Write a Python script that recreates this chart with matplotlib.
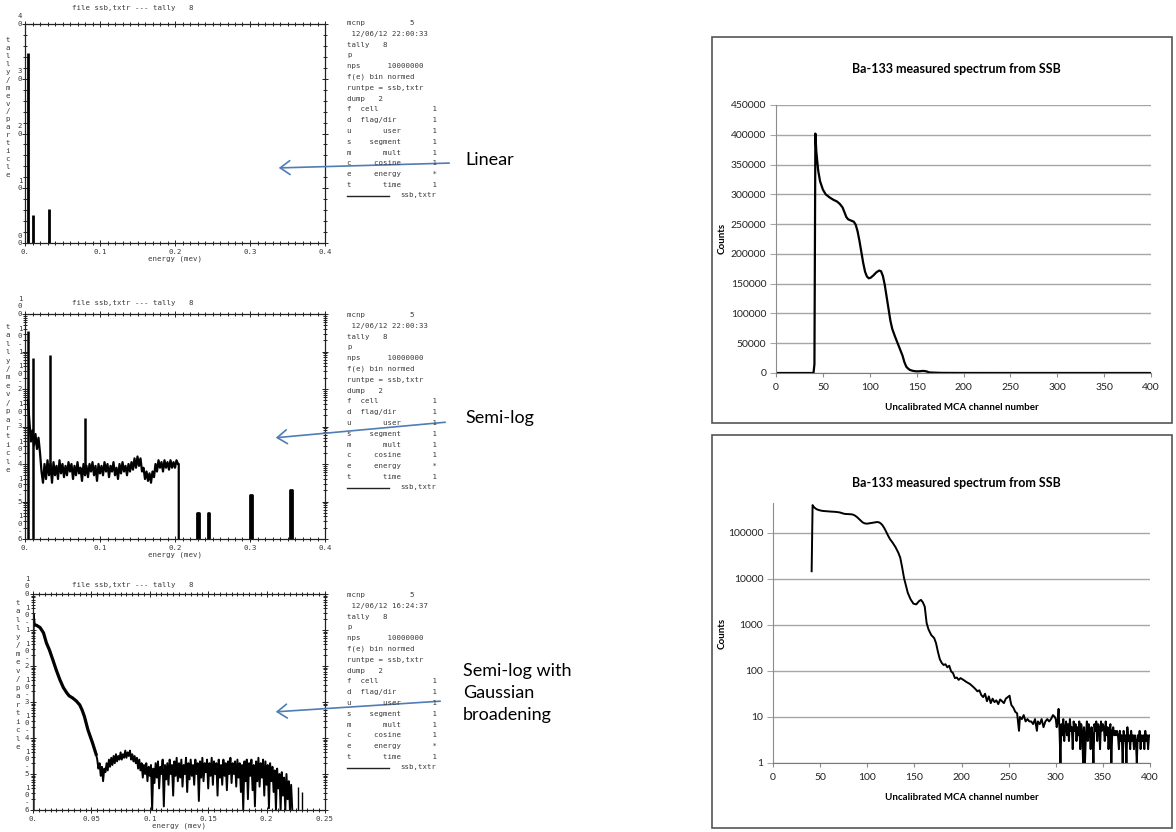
import numpy as np
import matplotlib.pyplot as plt
from matplotlib.patches import Rectangle, FancyArrowPatch
from matplotlib.lines import Line2D
from matplotlib.ticker import MultipleLocator, FixedLocator, LogLocator, NullFormatter, NullLocator

plt.rcParams['font.family'] = ['Lato', 'DejaVu Sans']

# ---------------- MCNP tally 8 plots (left column) ----------------
# linear plot: three isolated spikes (tally/mev/particle)
lin_energy = [0.004, 0.011, 0.032]
lin_tally = [3.47, 0.51, 0.62]

# semi-log plot, values stored as log10(tally/mev/particle)
semi_spike_energy = [0.004, 0.011, 0.033, 0.080]
semi_spike_top = [-0.46, -1.17, -1.08, -2.76]
semi_spike_base = [-6.0, -6.0, -4.1, -4.2]
semi_cont_start, semi_cont_end, semi_edge = 0.004, 0.204, 0.205
semi_cont = [-2.3, -2.9, -3.4, -3.1, -3.5, -3.2, -3.6, -3.3, -3.7, -4.2,
             -4.5, -4.0, -4.4, -3.9, -4.3, -4.0, -4.5, -3.95, -4.3, -4.05,
             -4.4, -3.9, -4.25, -4.0, -4.35, -4.05, -4.3, -3.95, -4.2, -4.0,
             -4.4, -4.05, -4.3, -3.95, -4.25, -4.1, -4.45, -4.0, -4.3, -4.05,
             -4.35, -4.0, -4.2, -3.95, -4.3, -4.05, -4.45, -4.0, -4.25, -4.05,
             -4.3, -3.95, -4.2, -4.0, -4.35, -4.05, -4.2, -3.95, -4.3, -4.1,
             -4.4, -4.0, -4.25, -3.95, -4.2, -4.05, -4.3, -4.0, -4.2, -3.95,
             -4.15, -3.85, -4.1, -3.8, -4.05, -3.85, -4.2, -4.1, -4.4, -4.2,
             -4.45, -4.25, -4.5, -4.2, -4.35, -4.0, -4.2, -3.9, -4.1, -3.95,
             -4.2, -3.9, -4.1, -3.95, -4.15, -3.9, -4.1, -3.95, -4.1, -3.9,
             -4.0]
semi_peak_lo = [0.2295, 0.2435, 0.2995, 0.3535]
semi_peak_hi = [0.2315, 0.2455, 0.3025, 0.3565]
semi_peak_top = [-5.3, -5.3, -4.82, -4.68]

# semi-log with gaussian broadening (log10 values)
gauss_smooth_e = [0.0, 0.0, 0.001, 0.003, 0.006, 0.009, 0.0115, 0.014, 0.017, 0.020,
                  0.023, 0.026, 0.029, 0.031, 0.034, 0.037, 0.040, 0.042, 0.044,
                  0.047, 0.051, 0.054]
gauss_smooth_v = [-6.0, -0.57, -0.85, -0.87, -0.93, -1.08, -1.36, -1.55, -1.83, -2.12,
                  -2.38, -2.60, -2.75, -2.83, -2.89, -2.97, -3.08, -3.22, -3.40,
                  -3.77, -4.14, -4.45]
gauss_noise_start, gauss_noise_end = 0.055, 0.222
gauss_noise = [-4.6, -4.85, -4.7, -5.05, -4.8, -5.2, -4.85, -4.95, -4.7, -4.9,
               -4.6, -4.8, -4.55, -4.75, -4.5, -4.7, -4.45, -4.65, -4.5, -4.6,
               -4.4, -4.6, -4.45, -4.55, -4.35, -4.55, -4.4, -4.5, -4.35, -4.6,
               -4.45, -4.65, -4.5, -4.7, -4.55, -4.85, -4.6, -4.9, -4.7, -5.1,
               -4.75, -5.0, -4.7, -5.2, -4.8, -5.05, -4.75, -6.0, -4.85, -5.25,
               -4.7, -5.1, -4.65, -5.4, -4.8, -5.0, -4.6, -5.9, -4.75, -5.15,
               -4.7, -5.3, -4.6, -5.0, -4.75, -5.6, -4.65, -5.05, -4.55, -5.2,
               -4.7, -5.1, -4.6, -5.35, -4.75, -5.0, -4.55, -5.5, -4.7, -5.15,
               -4.6, -5.05, -4.75, -5.3, -4.6, -5.0, -4.7, -5.75, -4.65, -5.1,
               -4.55, -5.2, -4.7, -4.95, -4.6, -5.4, -4.7, -5.05, -4.55, -5.3,
               -4.65, -5.0, -4.7, -5.6, -4.6, -5.1, -4.75, -5.3, -4.6, -5.05,
               -4.7, -5.45, -4.65, -5.0, -4.55, -5.25, -4.7, -5.0, -4.65, -5.35,
               -4.6, -5.1, -4.7, -5.5, -4.75, -6.0, -4.65, -5.2, -4.6, -5.7,
               -4.7, -5.05, -4.6, -5.45, -4.75, -5.9, -4.65, -5.2, -4.55, -5.35,
               -4.7, -5.1, -4.6, -5.6, -4.65, -5.3, -4.75, -5.95, -4.7, -5.2,
               -4.8, -5.5, -4.9, -6.0, -4.85, -5.4, -5.0, -6.0, -4.95, -5.6,
               -5.1, -6.0, -5.0, -5.7, -5.2, -6.0, -5.3, -6.0]
gauss_lone_e = [0.227, 0.230]
gauss_lone_v = [-5.35, -5.5]

# ---------------- Ba-133 measured spectrum (right column) ----------------
ba_channel = [0, 38, 40, 41, 42, 43, 45, 47, 50, 53, 57, 61, 65, 68, 71, 73, 75, 77, 80,
              83, 85, 87, 89, 91, 93, 95, 97, 99, 101, 104, 107, 110, 112, 114, 116,
              118, 120, 122, 124, 127, 130, 133, 135, 137, 139, 141, 143, 146, 149,
              152, 155, 157, 159, 161, 163, 165, 168, 171, 173, 175, 177, 179, 181,
              183, 185, 187, 189, 191, 193, 195, 197, 199, 201, 203, 205, 207, 209,
              211, 213, 215, 217, 219, 221, 223, 225, 227, 229, 231, 233, 235, 237,
              239, 241, 243, 245, 247, 249, 251, 252, 253, 255, 257, 259, 261, 262,
              264, 266, 268, 270, 272, 274, 276, 278, 280, 281, 283, 285, 287, 289,
              291, 293, 295, 297, 299]
ba_counts = [0, 0, 0, 14700, 402000, 372000, 340000, 322000, 308000, 300000, 295000,
             291000, 288000, 284000, 278000, 270000, 262000, 258000, 256000, 254000,
             249000, 238000, 222000, 203000, 185000, 170000, 162000, 159000, 160000,
             164000, 169000, 172000, 171000, 163000, 148000, 128000, 107000, 88000,
             74000, 61000, 49000, 37000, 29000, 18000, 10500, 7300, 5000, 3600, 2900,
             2800, 3300, 3500, 3100, 2500, 1100, 800, 600, 520, 400, 260, 180, 150,
             135, 140, 120, 130, 98, 90, 70, 72, 64, 70, 66, 62, 58, 55, 52, 48, 44,
             40, 36, 38, 30, 27, 32, 22, 28, 20, 25, 21, 23, 19, 24, 22, 20, 25, 27,
             29, 22, 18, 16, 13, 12, 5, 10, 9, 11, 8, 9, 8, 8, 7, 9, 5, 8, 7, 9, 6, 8,
             9, 8, 9, 11, 10]
ba_tail_first = 300
ba_tail = [9, 6, 8, 15, 5, 1, 7, 4, 9, 3, 6, 8, 4, 7, 3, 9, 5, 6, 2, 8,
           5, 7, 3, 6, 4, 8, 2, 7, 5, 1, 6, 1, 4, 8, 3, 7, 5, 2, 6, 4,
           1, 7, 5, 8, 3, 7, 6, 2, 8, 5, 7, 6, 3, 8, 4, 6, 2, 5, 7, 1,
           5, 6, 4, 5, 4, 5, 4, 2, 5, 3, 4, 1, 5, 3, 4, 1, 6, 3, 4, 2,
           5, 3, 4, 2, 4, 3, 1, 4, 3, 5, 2, 4, 3, 4, 2, 5, 3, 4, 2, 4, 4]

W, H = 1176, 832
fig = plt.figure(figsize=(W / 100, H / 100), dpi=100)
MONO = 'DejaVu Sans Mono'
INK = '#3a3a3a'


def rect(x0, y0, x1, y1):
    return [x0 / W, 1 - y1 / H, (x1 - x0) / W, (y1 - y0) / H]


def ftext(x, y, s, **kw):
    kw.setdefault('family', MONO)
    kw.setdefault('size', 5.3)
    kw.setdefault('color', INK)
    fig.text(x / W, 1 - y / H, s, **kw)


def stack(x, y_top, y_bottom, s):
    dy = (y_bottom - y_top) / max(len(s) - 1, 1)
    for i, c in enumerate(s):
        ftext(x, y_top + i * dy, c, ha='center', va='center')


def mcnp_frame(box, xmax, xmajor, xminor, xlabels, title_y, ylab):
    ax = fig.add_axes(rect(*box))
    ax.set_xlim(0, xmax)
    ax.xaxis.set_major_locator(FixedLocator([i * xmajor for i in range(len(xlabels))]))
    ax.set_xticklabels(xlabels, family=MONO, size=5.3, color=INK)
    ax.xaxis.set_minor_locator(MultipleLocator(xminor))
    ax.tick_params(which='both', direction='inout', top=True, right=True,
                   labelleft=False, width=0.7, color='#222222')
    ax.tick_params(which='major', length=5, pad=2)
    ax.tick_params(which='minor', length=2.5)
    for s in ax.spines.values():
        s.set_linewidth(0.9)
        s.set_color('#222222')
    ax.set_xlabel('energy (mev)', family=MONO, size=5.3, color=INK, labelpad=0)
    ftext(72, title_y, 'file ssb,txtr --- tally   8', va='center')
    stack(ylab[0], ylab[1], ylab[2], 'tally/mev/particle')
    return ax


def info_block(x, y, stamp):
    lines = ['mcnp          5', ' ' + stamp, 'tally   8', 'p', 'nps      10000000',
             'f(e) bin normed', 'runtpe = ssb,txtr', 'dump   2',
             'f  cell'.ljust(19) + '1', 'd  flag/dir'.ljust(19) + '1',
             ('u' + 'user'.rjust(11)).ljust(19) + '1',
             ('s' + 'segment'.rjust(11)).ljust(19) + '1',
             ('m' + 'mult'.rjust(11)).ljust(19) + '1',
             ('c' + 'cosine'.rjust(11)).ljust(19) + '1',
             ('e' + 'energy'.rjust(11)).ljust(19) + '*',
             ('t' + 'time'.rjust(11)).ljust(19) + '1']
    for i, s in enumerate(lines):
        ftext(x, y + i * 10.8, s, va='center')
    yl = y + len(lines) * 10.8
    fig.add_artist(Line2D([x / W, (x + 42) / W], [1 - yl / H, 1 - yl / H],
                          color='#222222', lw=1.0))
    ftext(x + 53, yl - 1, 'ssb,txtr', va='center')


def log_ylabels(x, y_top, y_bottom, ndec):
    step = (y_bottom - y_top) / ndec
    for k in range(ndec + 1):
        chars = ['1', '0', '0'] if k == 0 else ['1', '0', '-', str(k)]
        yk = y_top + k * step
        n = len(chars)
        for i, c in enumerate(chars):
            ftext(x, yk - (n - 1 - i) * 7.5, c, ha='center', va='center')


def arrow(x_from, y_from, x_to, y_to):
    fig.add_artist(FancyArrowPatch((x_from / W, 1 - y_from / H), (x_to / W, 1 - y_to / H),
                                   transform=fig.transFigure,
                                   arrowstyle='->,head_length=0.7,head_width=0.5',
                                   mutation_scale=10, color='#4f7db5', lw=1.2))


# ---- panel 1: linear ----
ax1 = mcnp_frame((25, 24, 325, 243), 0.4, 0.1, 0.01, ['0.', '0.1', '0.2', '0.3', '0.4'],
                 8, (8, 40, 175))
ax1.set_ylim(0, 4)
ax1.yaxis.set_major_locator(MultipleLocator(1))
ax1.yaxis.set_minor_locator(MultipleLocator(0.2))
ax1.vlines(lin_energy, 0, lin_tally, color='black', lw=2)
for v in range(5):
    yv = 243 - v * (243 - 24) / 4
    ftext(20, yv - 7.5, str(v), ha='center', va='center')
    ftext(20, yv, '0', ha='center', va='center')
info_block(347, 23, '12/06/12 22:00:33')

# ---- panel 2: semi-log ----
ax2 = mcnp_frame((25, 314, 325, 539), 0.4, 0.1, 0.01, ['0.', '0.1', '0.2', '0.3', '0.4'],
                 303, (8, 327, 470))
ax2.set_yscale('log')
ax2.set_ylim(1e-6, 1)
ax2.yaxis.set_minor_locator(LogLocator(base=10, subs=np.arange(2, 10), numticks=20))
ax2.yaxis.set_minor_formatter(NullFormatter())
semi_e = np.linspace(semi_cont_start, semi_cont_end, len(semi_cont))
ax2.plot(np.r_[semi_e, semi_edge, semi_edge], 10 ** np.r_[semi_cont, semi_cont[-1], -6.0],
         color='black', lw=1.6)
ax2.vlines(semi_spike_energy, 10 ** np.array(semi_spike_base), 10 ** np.array(semi_spike_top),
           color='black', lw=1.8)
for lo, hi, top in zip(semi_peak_lo, semi_peak_hi, semi_peak_top):
    ax2.plot([lo, lo, hi, hi], 10 ** np.array([-6.0, top, top, -6.0]), color='black', lw=2.0)
log_ylabels(20, 314, 539, 6)
info_block(347, 315, '12/06/12 22:00:33')

# ---- panel 3: semi-log with gaussian broadening ----
ax3 = mcnp_frame((33, 594, 325, 810), 0.25, 0.05, 0.005,
                 ['0.', '0.05', '0.1', '0.15', '0.2', '0.25'], 585, (18, 603, 747))
ax3.set_yscale('log')
ax3.set_ylim(1e-6, 1)
ax3.yaxis.set_minor_locator(LogLocator(base=10, subs=np.arange(2, 10), numticks=20))
ax3.yaxis.set_minor_formatter(NullFormatter())
ax3.plot(gauss_smooth_e, 10 ** np.array(gauss_smooth_v), color='black', lw=2.3)
gauss_e = np.linspace(gauss_noise_start, gauss_noise_end, len(gauss_noise))
ax3.plot(np.r_[gauss_smooth_e[-1], gauss_e], 10 ** np.r_[gauss_smooth_v[-1], gauss_noise],
         color='black', lw=1.4)
ax3.vlines(gauss_lone_e, 1e-6, 10 ** np.array(gauss_lone_v), color='black', lw=1.0)
log_ylabels(27, 594, 810, 6)
info_block(347, 595, '12/06/12 16:24:37')

# ---- labels and arrows ----
fig.text(465 / W, 1 - 160 / H, 'Linear', size=13, va='center', ha='left')
fig.text(465 / W, 1 - 418 / H, 'Semi-log', size=13, va='center', ha='left')
fig.text(463 / W, 1 - 693 / H, 'Semi-log with\nGaussian\nbroadening', size=13,
         va='center', ha='left', linespacing=1.45)
arrow(452, 163, 276, 168)
arrow(448, 422, 273, 438)
arrow(443, 701, 273, 712)


# ---- Excel style Ba-133 charts ----
def excel_chart(box, frame, title_y, ylab_y, xlab_y):
    fig.add_artist(Rectangle((frame[0] / W, 1 - frame[3] / H), (frame[2] - frame[0]) / W,
                             (frame[3] - frame[1]) / H, transform=fig.transFigure,
                             fill=False, ec='#555555', lw=1.2))
    ax = fig.add_axes(rect(*box))
    ax.set_xlim(0, 400)
    ax.set_xticks(range(0, 401, 50))
    ax.tick_params(axis='x', direction='out', length=3, color='#8c8c8c', labelsize=7.5,
                   labelcolor='#222222', pad=4)
    ax.tick_params(axis='y', direction='out', length=4, color='#a6a6a6', labelsize=7.5,
                   labelcolor='#222222', pad=3)
    for side in ('top', 'right'):
        ax.spines[side].set_visible(False)
    ax.spines['left'].set_color('#8c8c8c')
    ax.spines['bottom'].set_color('#7a7a7a')
    ax.grid(axis='y', color='#a6a6a6', lw=1.0)
    ax.set_axisbelow(True)
    fig.text(956 / W, 1 - title_y / H, 'Ba-133 measured spectrum from SSB', size=9,
             weight='bold', ha='center', va='center')
    fig.text(722 / W, 1 - ylab_y / H, 'Counts', size=7, weight='bold', rotation=90,
             ha='center', va='center')
    fig.text(962 / W, 1 - xlab_y / H, 'Uncalibrated MCA channel number', size=7,
             weight='bold', ha='center', va='center')
    return ax


ch_all = np.r_[ba_channel, np.arange(ba_tail_first, ba_tail_first + len(ba_tail))]
cnt_all = np.r_[ba_counts, ba_tail]

axr1 = excel_chart((776, 105, 1151, 373), (712, 37, 1172, 423), 69, 238, 407)
axr1.set_ylim(0, 450000)
axr1.set_yticks(range(0, 450001, 50000))
axr1.set_yticklabels([str(v) for v in range(0, 450001, 50000)])
axr1.plot(ch_all, cnt_all, color='black', lw=1.6)

axr2 = excel_chart((773, 503, 1150, 763), (712, 435, 1172, 828), 483, 633, 798)
axr2.set_yscale('log', nonpositive='mask')
axr2.set_ylim(1, 10 ** 5.65)
axr2.set_yticks([1, 10, 100, 1000, 10000, 100000])
axr2.set_yticklabels(['1', '10', '100', '1000', '10000', '100000'])
axr2.yaxis.set_minor_locator(NullLocator())
axr2.plot(ch_all, np.where(cnt_all > 0, cnt_all, np.nan), color='black', lw=1.4)

fig.savefig('out.png', dpi=100)
